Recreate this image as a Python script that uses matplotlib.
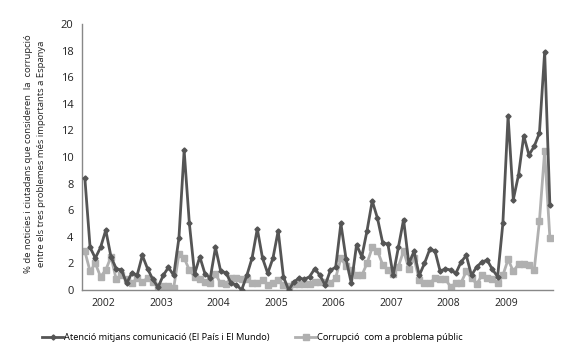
import matplotlib
matplotlib.use("Agg")
import matplotlib.pyplot as plt
import numpy as np

media = [8.4, 3.2, 2.4, 3.2, 4.5, 2.5, 1.6, 1.5, 0.5, 1.3, 1.1, 2.6, 1.6, 0.8, 0.2, 1.1,
         1.7, 1.1, 3.9, 10.5, 5.0, 1.2, 2.5, 1.2, 0.9, 3.2, 1.4, 1.3, 0.5, 0.4, 0.0,
         1.1, 2.4, 4.6, 2.4, 1.25, 2.4, 4.45, 1.0, 0.0, 0.6, 0.9, 0.8, 1.0, 1.6, 1.1,
         0.35, 1.5, 1.7, 5.0, 2.3, 0.5, 3.4, 2.5, 4.45, 6.7, 5.4, 3.55, 3.45, 1.1,
         3.2, 5.3, 2.0, 2.9, 1.1, 2.0, 3.05, 2.95, 1.4, 1.6, 1.5, 1.25, 2.1, 2.6, 1.1,
         1.75, 2.1, 2.25, 1.55, 1.0, 5.0, 13.1, 6.8, 8.65, 11.6, 10.15, 10.8, 11.8,
         17.9, 6.4]
public = [2.9, 1.4, 2.0, 1.0, 1.5, 2.5, 0.8, 1.1, 0.8, 0.5, 0.9, 0.6, 0.9, 0.6, 0.3, 0.3,
          0.3, 0.15, 2.7, 2.4, 1.5, 1.0, 0.85, 0.6, 0.55, 1.2, 0.5, 0.45, 0.9, 0.9, 0.8,
          0.8, 0.55, 0.5, 0.75, 0.4, 0.55, 0.75, 0.4, 0.3, 0.45, 0.45, 0.45, 0.45, 0.6,
          0.6, 0.6, 0.5, 0.9, 2.4, 1.8, 1.5, 1.1, 1.1, 2.0, 3.2, 2.95, 1.9, 1.5, 1.2,
          1.75, 2.95, 1.6, 2.4, 0.75, 0.55, 0.5, 0.9, 0.8, 0.8, 0.25, 0.5, 0.55, 1.4,
          0.9, 0.45, 1.1, 0.9, 0.8, 0.5, 1.1, 2.3, 1.4, 1.95, 1.95, 1.9, 1.5, 5.2,
          10.45, 3.9]
years = ["2002", "2003", "2004", "2005", "2006", "2007", "2008", "2009"]
year_pos = [3.6 + 11 * k for k in range(len(years))]

label_media = "Atenció mitjans comunicació (El País i El Mundo)"
label_public = "Corrupció  com a problema públic"
ylabel = ("% de noticies i ciutadans que consideren  la  corrupció\n"
          "entre els tres problemes més importants a Espanya")

plt.rcParams['font.family'] = ['Open Sans', 'DejaVu Sans']

fig = plt.figure(figsize=(5.71, 3.63), dpi=100)
ax = fig.add_axes([0.1436, 0.2011, 0.8249, 0.7328])

x = np.arange(len(media))
ax.plot(x, public, color="#b0b0b0", lw=2.0, marker="s", ms=3.8, mec="#b0b0b0",
        label=label_public, zorder=2)
ax.plot(x, media, color="#555555", lw=2.0, marker="D", ms=2.6, mec="#555555",
        label=label_media, zorder=3)

ax.set_xlim(-0.55, len(media) - 0.4)
ax.set_ylim(0, 20)
ax.set_yticks(range(0, 21, 2))
ax.set_xticks(year_pos)
ax.set_xticklabels(years, fontsize=7.5)
ax.tick_params(axis="both", length=0, labelsize=8, colors="#222222", pad=6)
ax.tick_params(axis="x", labelsize=7.5, pad=6)
for s in ["top", "right"]:
    ax.spines[s].set_visible(False)
for s in ["left", "bottom"]:
    ax.spines[s].set_color("#888888")
    ax.spines[s].set_linewidth(1.0)

fig.text(0.061, 0.577, ylabel, rotation=90, ha="center", va="center",
         fontsize=6.8, color="#222222", linespacing=1.5)

handles, labels = ax.get_legend_handles_labels()
leg = fig.legend(handles[::-1], labels[::-1], loc="center", bbox_to_anchor=(0.442, 0.07),
                 ncol=2, frameon=False, fontsize=6.7, handlelength=2.2,
                 handletextpad=0.1, columnspacing=2.8)

fig.savefig("out.png", dpi=100)
